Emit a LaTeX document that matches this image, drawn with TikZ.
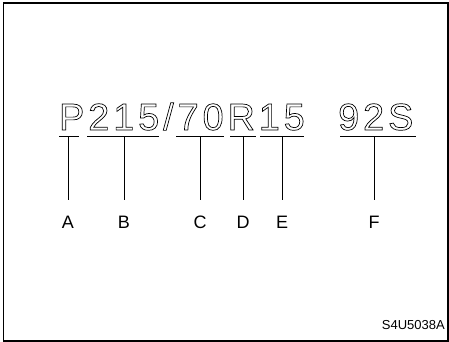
\documentclass[tikz,border=0pt]{standalone}
\usepackage{fontspec}
\setmainfont{Liberation Sans}
\newfontfamily\bigfont[LetterSpace=10.6]{Liberation Sans}
\newcommand{\outlinetext}[1]{\special{pdf:literal direct 1 Tr 0.7 w}#1\special{pdf:literal direct 0 Tr}}
\begin{document}
\begin{tikzpicture}[x=1pt,y=-1pt,
  frame/.style={draw=black,line width=1.8pt},
  big/.style={inner sep=0pt,anchor=base west,font=\bigfont\fontsize{37.7}{40}\selectfont},
  lab/.style={inner sep=0pt,font=\fontsize{18}{20}\selectfont},
  ul/.style={draw=black,line width=0.8pt},
  code/.style={inner sep=0pt,anchor=base east,font=\fontsize{13}{15}\selectfont}]
\useasboundingbox (0,0) rectangle (449,342);
\draw[frame] (3.5,3) rectangle (448,341);
\node[big] (t1) at (59,130) {\outlinetext{P215/70R15}};
\node[big] (t2) at (338,130) {\outlinetext{92S}};
% underline anchors
\coordinate (a1) at (59,136); \coordinate (a2) at (79,136);
\coordinate (b1) at (87,136); \coordinate (b2) at (159,136);
\coordinate (c1) at (176,136); \coordinate (c2) at (224,136);
\coordinate (d1) at (230,136); \coordinate (d2) at (256,136);
\coordinate (e1) at (260,136); \coordinate (e2) at (304,136);
\coordinate (f1) at (340,136); \coordinate (f2) at (416,136);
\coordinate (ua) at (68,136); \coordinate (ub) at (124,136);
\coordinate (uc) at (200,136); \coordinate (ud) at (243,136);
\coordinate (ue) at (282,136); \coordinate (uf) at (374,136);
\draw[ul] (a1) -- (a2); \draw[ul] (b1) -- (b2); \draw[ul] (c1) -- (c2);
\draw[ul] (d1) -- (d2); \draw[ul] (e1) -- (e2); \draw[ul] (f1) -- (f2);
\node[lab] (A) at (68,222) {A};
\node[lab] (B) at (124,222) {B};
\node[lab] (C) at (200,222) {C};
\node[lab] (D) at (243,222) {D};
\node[lab] (E) at (282,222) {E};
\node[lab] (F) at (374,222) {F};
\draw[ul] (ua) -- (68,200) coordinate (va);
\draw[ul] (ub) -- (124,200);
\draw[ul] (uc) -- (200,200);
\draw[ul] (ud) -- (243,200);
\draw[ul] (ue) -- (282,200);
\draw[ul] (uf) -- (374,200);
\node[code] (id) at (445,329) {S4U5038A};
\end{tikzpicture}
\end{document}
